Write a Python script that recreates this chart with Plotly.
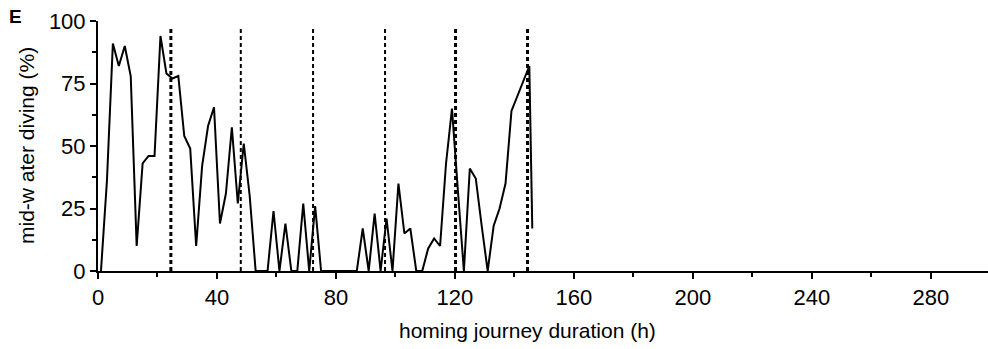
import plotly.graph_objects as go

hours = [1, 3, 5, 7, 9, 11, 13, 15, 17, 19, 21, 23, 25, 27, 29, 31, 33, 35, 37, 39,
         41, 43, 45, 47, 49, 51, 53, 55, 57, 59, 61, 63, 65, 67, 69, 71, 73, 75, 77, 79,
         81, 83, 85, 87, 89, 91, 93, 95, 97, 99, 101, 103, 105, 107, 109, 111, 113, 115,
         117, 119, 121, 123, 125, 127, 129, 131, 133, 135, 137, 139, 141, 143, 145, 146]
midwater = [0, 36, 91, 82, 90, 78, 10, 43, 46, 46, 94, 79, 77, 78, 54, 49, 10, 42, 58, 65.5,
            19, 31, 57.5, 27, 51, 30, 0, 0, 0, 24, 0, 19, 0, 0, 27, 0, 26, 0, 0, 0,
            0, 0, 0, 0, 17, 0, 23, 0, 21, 0, 35, 15, 17, 0, 0, 9, 13, 10,
            43, 65, 32, 0, 41, 37, 18, 0, 18, 25, 35, 64, 70, 76, 82, 17]

day_marks = [24.5, 48, 72.3, 96.5, 120.2, 144.4]
day_mark_widths = [3, 2, 2, 2, 3, 3]
mark_top = 97.6

x_ticks = [0, 40, 80, 120, 160, 200, 240, 280]
y_ticks = [0, 25, 50, 75, 100]

FONT = "Liberation Sans, Arial, sans-serif"
FS = 21
TFS = 22

PLOT_W = 890
PLOT_H = 250

fig = go.Figure()
fig.add_trace(go.Scatter(x=hours, y=midwater, mode="lines",
                         line=dict(color="black", width=2), showlegend=False))

for xm, w in zip(day_marks, day_mark_widths):
    fig.add_shape(type="line", xref="x", yref="y", x0=xm, x1=xm, y0=0, y1=mark_top,
                  line=dict(color="black", width=w, dash="4px,3px"), layer="below")

fig.update_layout(
    width=988, height=349,
    margin=dict(l=98, r=0, t=21, b=78),
    paper_bgcolor="white", plot_bgcolor="white",
    font=dict(family=FONT, size=FS, color="black"),
    showlegend=False,
    annotations=[
        dict(text="<b>E</b>", xref="paper", yref="paper",
             x=(15 - 98) / PLOT_W, y=1 + (21 - 17) / PLOT_H,
             xanchor="center", yanchor="middle", showarrow=False,
             font=dict(family=FONT, size=19, color="black")),
        dict(text="homing journey duration (h)", xref="paper", yref="paper",
             x=(527 - 98) / PLOT_W, y=-(330 - 271) / PLOT_H,
             xanchor="center", yanchor="middle", showarrow=False,
             font=dict(family=FONT, size=FS, color="black")),
        dict(text="mid-w ater diving (%)", xref="paper", yref="paper",
             x=(26 - 98) / PLOT_W, y=0.5, textangle=-90,
             xanchor="center", yanchor="middle", showarrow=False,
             font=dict(family=FONT, size=FS, color="black")),
    ],
)
fig.update_xaxes(range=[0, 299.2], tickvals=x_ticks, ticks="outside", ticklen=6, tickwidth=2,
                 showline=True, linewidth=2, linecolor="black", showgrid=False, zeroline=False,
                 minor=dict(dtick=20, ticks="outside", ticklen=4, tickwidth=2, tickcolor="black", tick0=0),
                 tickcolor="black", tickfont=dict(size=TFS))
fig.update_yaxes(range=[0, 100], tickvals=y_ticks, ticks="outside", ticklen=6, tickwidth=2,
                 showline=True, linewidth=2, linecolor="black", showgrid=False, zeroline=False,
                 minor=dict(dtick=12.5, ticks="outside", ticklen=4, tickwidth=2, tickcolor="black", tick0=0),
                 tickcolor="black", tickfont=dict(size=TFS))

fig.write_html("out.html")
